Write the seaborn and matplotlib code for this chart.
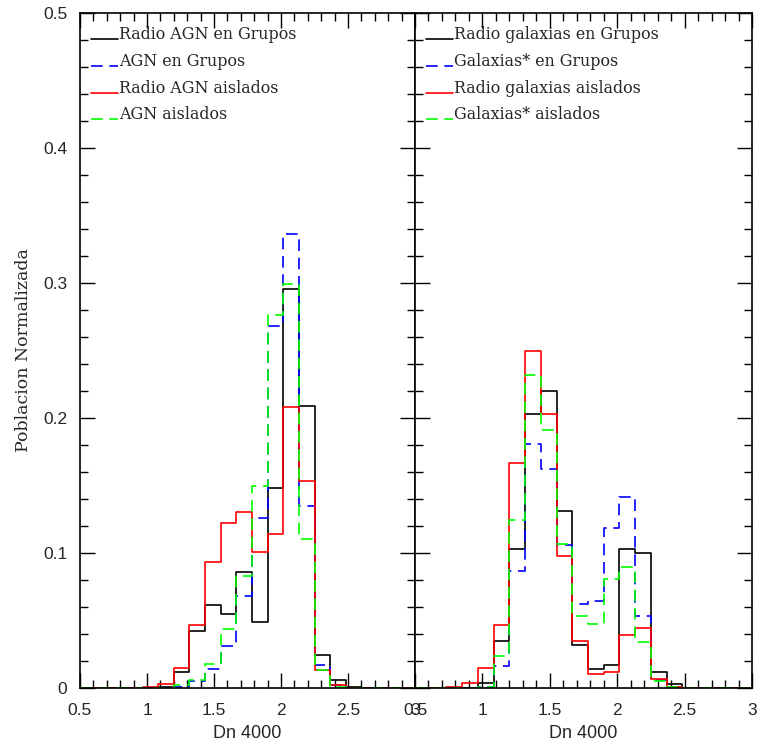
import numpy as np
import pandas as pd
import matplotlib
matplotlib.use("Agg")
import matplotlib.pyplot as plt
from matplotlib.ticker import MultipleLocator, FuncFormatter
import seaborn as sns

# bins of Dn 4000 (width ~0.1167 starting at 0.5)
bin_start = 0.5
bin_width = 0.11667
n_bins = 22

# left panel: AGN
radio_agn_grupos = [0, 0, 0, 0, 0, 0.001, 0.012, 0.0425, 0.0615, 0.055, 0.086,
                    0.049, 0.148, 0.2955, 0.209, 0.0247, 0.006, 0.001, 0, 0, 0, 0]
agn_grupos = [0, 0, 0, 0, 0, 0, 0.001, 0.005, 0.014, 0.031, 0.068,
              0.126, 0.268, 0.336, 0.135, 0.017, 0.002, 0, 0, 0, 0, 0]
radio_agn_aislados = [0, 0, 0, 0, 0.0005, 0.003, 0.015, 0.047, 0.093, 0.122, 0.1306,
                      0.1005, 0.114, 0.208, 0.153, 0.013, 0.002, 0, 0, 0, 0, 0]
agn_aislados = [0, 0, 0, 0, 0, 0, 0.002, 0.006, 0.018, 0.044, 0.083,
                0.150, 0.276, 0.2995, 0.1106, 0.013, 0.001, 0, 0, 0, 0, 0]

# right panel: galaxias
radio_gal_grupos = [0, 0, 0, 0, 0.0037, 0.0346, 0.103, 0.2027, 0.2199, 0.1312, 0.0316,
                    0.0143, 0.0173, 0.103, 0.100, 0.0119, 0.0032, 0, 0, 0, 0, 0]
gal_grupos = [0, 0, 0, 0, 0.001, 0.016, 0.0867, 0.1805, 0.1625, 0.106, 0.062,
              0.0644, 0.1188, 0.1416, 0.0533, 0.0062, 0.001, 0, 0, 0, 0, 0]
radio_gal_aislados = [0, 0, 0.0007, 0.0037, 0.0148, 0.047, 0.167, 0.250, 0.203, 0.098, 0.0348,
                      0.0101, 0.0119, 0.039, 0.0444, 0.0064, 0.0005, 0, 0, 0, 0, 0]
gal_aislados = [0, 0, 0, 0, 0.001, 0.024, 0.1246, 0.232, 0.191, 0.107, 0.053,
                0.0477, 0.081, 0.0896, 0.034, 0.005, 0.001, 0, 0, 0, 0, 0]

labels_left = ["Radio AGN en Grupos", "AGN en Grupos", "Radio AGN aislados", "AGN aislados"]
labels_right = ["Radio galaxias en Grupos", "Galaxias* en Grupos",
                "Radio galaxias aislados", "Galaxias* aislados"]

edges = bin_start + bin_width * np.arange(n_bins + 1)
centers = edges[:-1] + bin_width / 2

sns.set_style("ticks")
plt.rcParams["font.family"] = ["Liberation Sans", "DejaVu Sans"]
plt.rcParams["axes.linewidth"] = 1.2

colors = ["black", "#0000ff", "#ff0000", "#00ff00"]
dashes = ["-", (0, (7, 4)), "-", (0, (7, 4))]

fig = plt.figure(figsize=(7.57, 7.49), dpi=100)
ax1 = fig.add_axes([80 / 757, 61 / 749, 335 / 757, 675 / 749])
ax2 = fig.add_axes([415 / 757, 61 / 749, 337 / 757, 675 / 749])

panels = [
    (ax1, [radio_agn_grupos, agn_grupos, radio_agn_aislados, agn_aislados], labels_left),
    (ax2, [radio_gal_grupos, gal_grupos, radio_gal_aislados, gal_aislados], labels_right),
]

for ax, series, labels in panels:
    for vals, c, ls in zip(series, colors, dashes):
        df = pd.DataFrame({"Dn": centers, "frac": vals})
        sns.histplot(data=df, x="Dn", weights="frac", bins=edges.tolist(),
                     element="step", fill=False, color=c, linestyle=ls,
                     linewidth=1.2, ax=ax)
    ax.set_xlim(0.5, 3)
    ax.set_ylim(0, 0.5)
    ax.xaxis.set_major_locator(MultipleLocator(0.5))
    ax.xaxis.set_minor_locator(MultipleLocator(0.1))
    ax.yaxis.set_major_locator(MultipleLocator(0.1))
    ax.yaxis.set_minor_locator(MultipleLocator(0.02))
    ax.xaxis.set_major_formatter(FuncFormatter(lambda v, p: "%g" % round(v, 2)))
    ax.yaxis.set_major_formatter(FuncFormatter(lambda v, p: "%g" % round(v, 2)))
    ax.tick_params(which="both", direction="in", top=True, right=True, color="black",
                   labelsize=12.5, width=1)
    ax.tick_params(which="major", length=11)
    ax.tick_params(axis="x", which="major", pad=11)
    ax.tick_params(axis="y", which="major", pad=9)
    ax.tick_params(which="minor", length=6)
    ax.set_xlabel("Dn 4000", fontsize=13, labelpad=5)
    ax.set_ylabel("")
    for s in ax.spines.values():
        s.set_color("black")

    # legend drawn by hand: short line then label
    for i, (lab, c, ls) in enumerate(zip(labels, colors, dashes)):
        y = 0.961 - i * 0.0395
        ax.plot([0.033, 0.113], [y, y], color=c, linestyle=ls, linewidth=1.2,
                transform=ax.transAxes)
        ax.text(0.116, y, lab, transform=ax.transAxes, va="baseline", ha="left",
                fontsize=11.4, family="DejaVu Serif")

ax2.tick_params(axis="y", labelleft=False)
ax1.set_ylabel("Poblacion Normalizada", fontsize=12.5, family="DejaVu Serif", labelpad=8)

fig.savefig("out.png", dpi=100)
